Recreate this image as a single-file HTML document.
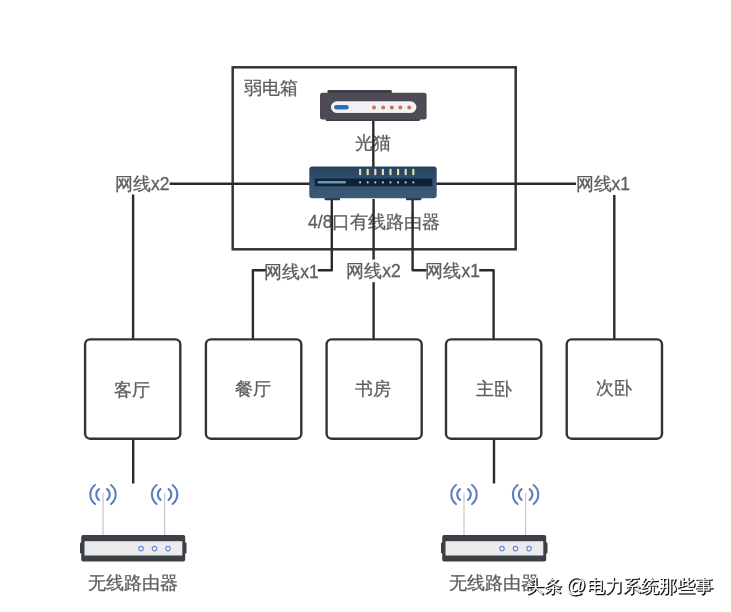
<!DOCTYPE html>
<html><head><meta charset="utf-8">
<style>
html,body{margin:0;padding:0;background:#fff;}
body{width:731px;height:612px;overflow:hidden;position:relative;font-family:"Liberation Sans",sans-serif;}
svg{position:absolute;left:0;top:0;will-change:transform;filter:blur(0.35px);}
text{font-family:"Liberation Sans",sans-serif;fill:#5e5e5e;font-size:17.5px;stroke:#5e5e5e;stroke-width:0.3px;}
</style></head><body>
<svg width="731" height="612" viewBox="0 0 731 612">
<defs>
<linearGradient id="sw" x1="0" y1="0" x2="0" y2="1">
<stop offset="0" stop-color="#27415e"/>
<stop offset="0.5" stop-color="#35536f"/>
<stop offset="1" stop-color="#3a5878"/>
</linearGradient>
</defs>
<!-- weak-current box -->
<rect x="232.7" y="67.3" width="283" height="182" fill="none" stroke="#333" stroke-width="2.5"/>
<text id="t_rdx" x="244.3" y="94.4">弱电箱</text>

<!-- labels behind lines -->
<text id="t_gm" x="373.3" y="149.2" text-anchor="middle">光猫</text>
<text id="t_lyq" x="374.2" y="227.8" text-anchor="middle">4/8口有线路由器</text>

<!-- lines -->
<g stroke="#2a2a2a" stroke-width="2.4" fill="none" stroke-linejoin="round">
<path d="M373.3 120 V167"/>
<path d="M310 183.7 H133.1 V339.4"/>
<path d="M436 183.7 H614.3 V339.4"/>
<path d="M331.8 199 V270.2 H252.9 V339.4"/>
<path d="M373.6 199 V339.4"/>
<path d="M412.6 199 V270.2 H493.6 V339.4"/>
<path d="M133.2 438.7 V483.5"/>
<path d="M494 438.7 V483.5"/>
</g>

<!-- edge labels with white bg -->
<g fill="#fff">
<rect x="116" y="172.5" width="53.6" height="22"/>
<rect x="576" y="173" width="53.2" height="22"/>
<rect x="266" y="260" width="51.8" height="22"/>
<rect x="346" y="259.6" width="54.8" height="22.6"/>
<rect x="426.6" y="260" width="52.6" height="22"/>
</g>
<text id="t_l1" x="142.2" y="189.8" text-anchor="middle">网线x2</text>
<text id="t_l2" x="602.8" y="190.2" text-anchor="middle">网线x1</text>
<text id="t_l3" x="291.6" y="277.9" text-anchor="middle">网线x1</text>
<text id="t_l4" x="373.4" y="277.2" text-anchor="middle">网线x2</text>
<text id="t_l5" x="452.7" y="276.8" text-anchor="middle">网线x1</text>

<!-- modem -->
<g>
<rect x="327.5" y="89.9" width="64.3" height="5" rx="1.2" fill="#403d46"/>
<rect x="325.7" y="116" width="94.3" height="5" rx="1.2" fill="#403d46"/>
<rect x="320" y="92.8" width="106.6" height="26.7" rx="2.5" fill="#4e4b55"/>
<rect x="331.4" y="101.8" width="84.6" height="10.7" rx="5.3" fill="#f2f2f4" stroke="#ffffff" stroke-width="0.8"/>
<rect x="334" y="105" width="14.7" height="4.6" rx="2.3" fill="#2f6dc3"/>
<g fill="#cc7450">
<circle cx="374" cy="107.6" r="2"/>
<circle cx="383.2" cy="107.6" r="2"/>
<circle cx="391.8" cy="107.6" r="2"/>
<circle cx="400.4" cy="107.6" r="2"/>
<circle cx="409.2" cy="107.6" r="2"/>
</g>
</g>

<!-- switch/router -->
<g>
<rect x="324.6" y="196" width="15.4" height="4.2" rx="1" fill="#22384f"/>
<rect x="406" y="196" width="15.4" height="4.2" rx="1" fill="#22384f"/>
<rect x="309.3" y="166.5" width="127.4" height="31.7" rx="3" fill="url(#sw)"/>
<rect x="314.8" y="178.5" width="117.6" height="7.7" fill="#0f2236"/>
<rect x="317.5" y="181" width="28.5" height="2.4" rx="1" fill="#5d9cae"/>
<g fill="#e6dbb0">
<rect x="359" y="168.7" width="2.2" height="6.5" rx="1"/>
<rect x="366.6" y="168.7" width="2.2" height="6.5" rx="1"/>
<rect x="374.2" y="168.7" width="2.2" height="6.5" rx="1"/>
<rect x="381.8" y="168.7" width="2.2" height="6.5" rx="1"/>
<rect x="389.4" y="168.7" width="2.2" height="6.5" rx="1"/>
<rect x="397" y="168.7" width="2.2" height="6.5" rx="1"/>
<rect x="404.6" y="168.7" width="2.2" height="6.5" rx="1"/>
<rect x="412.2" y="168.7" width="2.2" height="6.5" rx="1"/>
</g>
<g fill="#b4c4d2">
<circle cx="360.1" cy="182.4" r="1.1"/>
<circle cx="367.7" cy="182.4" r="1.1"/>
<circle cx="375.3" cy="182.4" r="1.1"/>
<circle cx="382.9" cy="182.4" r="1.1"/>
<circle cx="390.5" cy="182.4" r="1.1"/>
<circle cx="398.1" cy="182.4" r="1.1"/>
<circle cx="405.7" cy="182.4" r="1.1"/>
<circle cx="413.3" cy="182.4" r="1.1"/>
</g>
</g>

<!-- room boxes -->
<g fill="#fff" stroke="#333" stroke-width="2.4">
<rect x="85.1" y="339.4" width="95.2" height="99.3" rx="5"/>
<rect x="205.9" y="339.4" width="95.4" height="99.3" rx="5"/>
<rect x="326.6" y="339.4" width="95.1" height="99.3" rx="5"/>
<rect x="446" y="339.4" width="95.3" height="99.3" rx="5"/>
<rect x="566.7" y="339.4" width="95.3" height="99.3" rx="5"/>
</g>
<text id="t_b1" x="132.3" y="395.8" text-anchor="middle">客厅</text>
<text id="t_b2" x="252.8" y="395.2" text-anchor="middle">餐厅</text>
<text id="t_b3" x="373.4" y="395.2" text-anchor="middle">书房</text>
<text id="t_b4" x="494.1" y="395.4" text-anchor="middle">主卧</text>
<text id="t_b5" x="613.7" y="394.2" text-anchor="middle">次卧</text>

<!-- wireless routers -->
<g id="wr">
<g stroke="#c9c9c9" stroke-width="1.3">
<path d="M103 493 V535"/>
<path d="M164.6 493 V535"/>
</g>
<g stroke="#5e7ec0" stroke-width="2.1" fill="none" stroke-linecap="round">
<path d="M99 489.2 A6.5 6.5 0 0 0 99 499.8"/>
<path d="M107 489.2 A6.5 6.5 0 0 1 107 499.8"/>
<path d="M95 485 A12 12 0 0 0 95 504"/>
<path d="M111 485 A12 12 0 0 1 111 504"/>
<path d="M160.6 489.2 A6.5 6.5 0 0 0 160.6 499.8"/>
<path d="M168.6 489.2 A6.5 6.5 0 0 1 168.6 499.8"/>
<path d="M156.6 485 A12 12 0 0 0 156.6 504"/>
<path d="M172.6 485 A12 12 0 0 1 172.6 504"/>
</g>
<rect x="80" y="542.5" width="4" height="11" rx="1" fill="#3b4046"/>
<rect x="182.5" y="542.5" width="4" height="11" rx="1" fill="#3b4046"/>
<rect x="81.2" y="534.9" width="104" height="26.6" rx="2" fill="#3b4046"/>
<rect x="84.5" y="541.2" width="97.8" height="14.3" fill="#ebebeb"/>
<g fill="#fff" stroke="#6687d2" stroke-width="1.2">
<circle cx="141" cy="548.6" r="2.2"/>
<circle cx="154.5" cy="548.6" r="2.2"/>
<circle cx="168" cy="548.6" r="2.2"/>
</g>
</g>
<use href="#wr" x="361" y="0"/>
<text id="t_w1" x="132.7" y="588.9" text-anchor="middle">无线路由器</text>
<text id="t_w2" x="493.6" y="588.9" text-anchor="middle">无线路由器</text>

<!-- watermark -->
<g style="font-size:18px">
<g transform="translate(1,1.2)" style="fill:#111;stroke:#111;stroke-width:0.5">
<text x="525.5" y="591.5" style="fill:#111;stroke:#111;stroke-width:0.5px">头条</text>
<text x="565.8" y="591.5" style="fill:#111;stroke:#111;stroke-width:0.5px;font-size:20px">@</text>
<text x="586.5" y="591.5" style="fill:#111;stroke:#111;stroke-width:0.5px;font-size:18.3px">电力系统那些事</text>
</g>
<text x="525.5" y="591.5" style="fill:#fff;stroke:none">头条</text>
<text x="565.8" y="591.5" style="fill:#fff;stroke:none;font-size:20px">@</text>
<text x="586.5" y="591.5" style="fill:#fff;stroke:none;font-size:18.3px">电力系统那些事</text>
</g>
</svg>
</body></html>
